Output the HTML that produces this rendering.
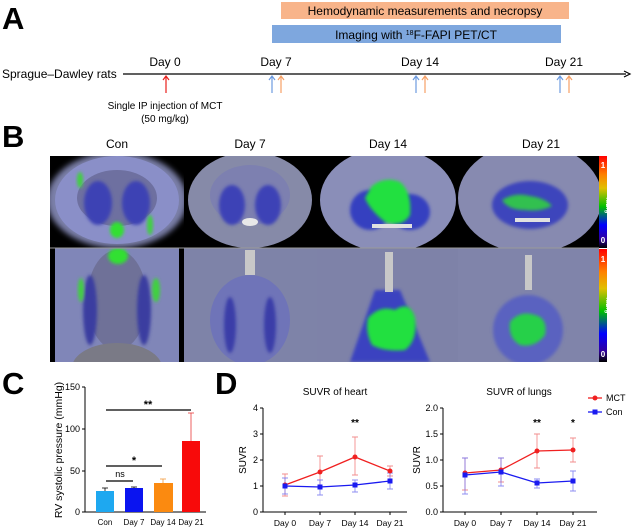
<!DOCTYPE html>
<html><head><meta charset="utf-8"><style>
html,body{margin:0;padding:0;background:#fff}
svg{display:block;font-family:"Liberation Sans",Arial,sans-serif}
</style></head><body>
<svg width="633" height="529" viewBox="0 0 633 529" xmlns="http://www.w3.org/2000/svg">
<defs>
<filter id="bl" x="-30%" y="-30%" width="160%" height="160%"><feGaussianBlur stdDeviation="3"/></filter>
<filter id="bl2" x="-30%" y="-30%" width="160%" height="160%"><feGaussianBlur stdDeviation="1.5"/></filter>
<linearGradient id="cb" x1="0" y1="0" x2="0" y2="1">
<stop offset="0" stop-color="#ff0000"/><stop offset="0.2" stop-color="#ff8000"/><stop offset="0.35" stop-color="#e0c000"/><stop offset="0.55" stop-color="#00c000"/><stop offset="0.75" stop-color="#0000ff"/><stop offset="0.9" stop-color="#3000a0"/><stop offset="1" stop-color="#000"/></linearGradient>
<clipPath id="c1"><rect x="50" y="156" width="134" height="92"/></clipPath>
<clipPath id="c2"><rect x="184" y="156" width="133" height="92"/></clipPath>
<clipPath id="c3"><rect x="317" y="156" width="141" height="92"/></clipPath>
<clipPath id="c4"><rect x="458" y="156" width="141" height="92"/></clipPath>
<clipPath id="d1"><rect x="50" y="248" width="134" height="114"/></clipPath>
<clipPath id="d2"><rect x="184" y="248" width="133" height="114"/></clipPath>
<clipPath id="d3"><rect x="317" y="248" width="141" height="114"/></clipPath>
<clipPath id="d4"><rect x="458" y="248" width="141" height="114"/></clipPath>
</defs>

<!-- Panel A -->
<text x="2" y="29" font-size="31" font-weight="bold">A</text>
<rect x="281" y="2" width="288" height="17" fill="#f8b48a"/>
<text x="425" y="15" font-size="12" text-anchor="middle">Hemodynamic measurements and necropsy</text>
<rect x="272" y="25" width="289" height="18" fill="#7ea7de"/>
<text x="416" y="39" font-size="12" text-anchor="middle">Imaging with <tspan font-size="7" dy="-4">18</tspan><tspan dy="4">F-FAPI PET/CT</tspan></text>
<text x="2" y="78" font-size="12">Sprague–Dawley rats</text>
<line x1="123" y1="74" x2="626" y2="74" stroke="#000" stroke-width="1.2"/>
<path d="M624,71 L630,74 L624,77" fill="none" stroke="#000" stroke-width="1.2"/>
<g font-size="12" text-anchor="middle">
<text x="165" y="66">Day 0</text><text x="276" y="66">Day 7</text><text x="420" y="66">Day 14</text><text x="564" y="66">Day 21</text>
</g>
<g stroke-width="1.2" fill="none">
<path d="M166,93 V77 M163,80 L166,76 L169,80" stroke="#e8201c"/>
<path d="M272,93 V77 M269,80 L272,76 L275,80" stroke="#6d9be0"/>
<path d="M281,93 V77 M278,80 L281,76 L284,80" stroke="#f6a066"/>
<path d="M416,93 V77 M413,80 L416,76 L419,80" stroke="#6d9be0"/>
<path d="M425,93 V77 M422,80 L425,76 L428,80" stroke="#f6a066"/>
<path d="M560,93 V77 M557,80 L560,76 L563,80" stroke="#6d9be0"/>
<path d="M569,93 V77 M566,80 L569,76 L572,80" stroke="#f6a066"/>
</g>
<text x="165" y="109" font-size="10" text-anchor="middle">Single IP injection of MCT</text>
<text x="165" y="122" font-size="10" text-anchor="middle">(50 mg/kg)</text>

<!-- Panel B -->
<text x="2" y="147" font-size="31" font-weight="bold">B</text>
<g font-size="12" text-anchor="middle">
<text x="117" y="148">Con</text><text x="250" y="148">Day 7</text><text x="388" y="148">Day 14</text><text x="541" y="148">Day 21</text>
</g>
<rect x="50" y="156" width="549" height="206" fill="#000"/>

<!-- row1 axial -->
<g clip-path="url(#c1)">
<ellipse cx="117" cy="200" rx="70" ry="48" fill="#7a7fa8" filter="url(#bl)"/>
<ellipse cx="117" cy="200" rx="62" ry="44" fill="#8a8fc8"/>
<ellipse cx="117" cy="198" rx="40" ry="28" fill="#6e70a0"/>
<ellipse cx="98" cy="203" rx="14" ry="22" fill="#3e43b4" filter="url(#bl2)"/>
<ellipse cx="136" cy="203" rx="14" ry="22" fill="#3e43b4" filter="url(#bl2)"/>
<ellipse cx="117" cy="230" rx="7" ry="8" fill="#30e030" filter="url(#bl2)"/>
<ellipse cx="80" cy="180" rx="3" ry="8" fill="#40d040" filter="url(#bl2)"/>
<ellipse cx="150" cy="225" rx="3" ry="10" fill="#40d040" filter="url(#bl2)"/>
</g>
<g clip-path="url(#c2)">
<ellipse cx="250" cy="200" rx="62" ry="48" fill="#868aa8"/>
<ellipse cx="250" cy="195" rx="40" ry="30" fill="#7d80b0"/>
<ellipse cx="232" cy="205" rx="13" ry="20" fill="#3c42b6" filter="url(#bl2)"/>
<ellipse cx="268" cy="205" rx="13" ry="20" fill="#3c42b6" filter="url(#bl2)"/>
<ellipse cx="250" cy="222" rx="8" ry="4" fill="#e8e8e8"/>
</g>
<g clip-path="url(#c3)">
<ellipse cx="388" cy="200" rx="68" ry="52" fill="#8a8eb8"/>
<ellipse cx="370" cy="210" rx="20" ry="20" fill="#3640c0" filter="url(#bl2)"/>
<ellipse cx="410" cy="212" rx="20" ry="18" fill="#3640c0" filter="url(#bl2)"/>
<path d="M372,186 Q385,176 400,182 Q412,192 410,215 Q402,228 385,222 Q370,210 365,198 Z" fill="#20e040" filter="url(#bl2)"/>
<rect x="372" y="224" width="40" height="4" fill="#e0e0e0"/>
</g>
<g clip-path="url(#c4)">
<ellipse cx="530" cy="198" rx="72" ry="55" fill="#878ab0"/>
<ellipse cx="530" cy="205" rx="38" ry="24" fill="#3c44bc" filter="url(#bl2)"/>
<path d="M502,200 Q515,192 530,196 Q545,198 552,206 Q540,212 525,210 Q508,210 502,200 Z" fill="#30c050" filter="url(#bl2)"/>
<rect x="515" y="218" width="35" height="4" fill="#e0e0e0"/>
</g>

<!-- row2 coronal -->
<g clip-path="url(#d1)">
<rect x="55" y="248" width="124" height="114" fill="#8086b8"/>
<ellipse cx="117" cy="300" rx="30" ry="50" fill="#6f7198"/>
<ellipse cx="117" cy="368" rx="45" ry="25" fill="#7a7a86"/>
<ellipse cx="90" cy="310" rx="7" ry="35" fill="#3a3ea0" filter="url(#bl2)"/>
<ellipse cx="144" cy="310" rx="7" ry="35" fill="#3a3ea0" filter="url(#bl2)"/>
<ellipse cx="118" cy="256" rx="10" ry="8" fill="#30e030" filter="url(#bl2)"/>
<ellipse cx="81" cy="290" rx="3" ry="12" fill="#40d040" filter="url(#bl2)"/>
<ellipse cx="156" cy="290" rx="4" ry="12" fill="#40d040" filter="url(#bl2)"/>
</g>
<g clip-path="url(#d2)">
<rect x="184" y="248" width="133" height="114" fill="#7e83a8"/>
<ellipse cx="250" cy="320" rx="40" ry="45" fill="#6f74b8"/>
<ellipse cx="230" cy="325" rx="6" ry="28" fill="#3a3ea8" filter="url(#bl2)"/>
<ellipse cx="270" cy="325" rx="6" ry="28" fill="#3a3ea8" filter="url(#bl2)"/>
<rect x="245" y="250" width="10" height="25" fill="#c8c8c8"/>
</g>
<g clip-path="url(#d3)">
<rect x="317" y="248" width="141" height="114" fill="#7e82a8"/>
<path d="M350,362 L375,290 L400,290 L430,362 Z" fill="#3a42c0" filter="url(#bl2)"/>
<path d="M368,318 Q380,305 395,310 Q410,300 415,318 Q418,340 405,350 Q385,352 372,345 Q365,332 368,318 Z" fill="#20e040" filter="url(#bl2)"/>
<rect x="385" y="252" width="8" height="40" fill="#c8c8c8"/>
</g>
<g clip-path="url(#d4)">
<rect x="458" y="248" width="141" height="114" fill="#8084aa"/>
<ellipse cx="528" cy="330" rx="35" ry="35" fill="#5a62c0" filter="url(#bl2)"/>
<path d="M510,322 Q520,310 535,315 Q548,318 545,335 Q535,348 520,345 Q508,338 510,322 Z" fill="#28d048" filter="url(#bl2)"/>
<rect x="525" y="255" width="7" height="35" fill="#c8c8c8"/>
</g>
<line x1="50" y1="248" x2="599" y2="248" stroke="#9a9a9a" stroke-width="1"/>
<rect x="599" y="156" width="8" height="92" fill="url(#cb)"/>
<rect x="599" y="249" width="8" height="113" fill="url(#cb)"/>
<g fill="#fff" font-size="8" font-weight="bold" text-anchor="middle">
<text x="603" y="168">1</text><text x="603" y="243">0</text>
<text x="603" y="262">1</text><text x="603" y="357">0</text>
<text transform="translate(606,205) rotate(90)" font-size="6">%ID/g</text>
<text transform="translate(606,305) rotate(90)" font-size="6">%ID/g</text>
</g>

<!-- Panel C -->
<text x="2" y="394" font-size="31" font-weight="bold">C</text>
<g stroke="#000" stroke-width="1">
<line x1="85" y1="387" x2="85" y2="512"/>
<line x1="85" y1="512" x2="206" y2="512"/>
<line x1="82" y1="387" x2="85" y2="387"/><line x1="82" y1="429" x2="85" y2="429"/>
<line x1="82" y1="471" x2="85" y2="471"/><line x1="82" y1="512" x2="85" y2="512"/>
</g>
<g font-size="9" text-anchor="end"><text x="80" y="390">150</text><text x="80" y="432">100</text><text x="80" y="474">50</text><text x="80" y="515">0</text></g>
<text transform="translate(62,450) rotate(-90)" font-size="10.5" text-anchor="middle">RV systolic pressure (mmHg)</text>
<g stroke="#000" stroke-width="0.8">
<line x1="105" y1="488" x2="105" y2="491"/><line x1="102" y1="488" x2="108" y2="488"/>
<line x1="134" y1="487" x2="134" y2="488"/><line x1="131" y1="487" x2="137" y2="487"/>
</g>
<g stroke-width="0.8" stroke="#f39a3a"><line x1="163" y1="479" x2="163" y2="483"/><line x1="160" y1="479" x2="166" y2="479"/></g>
<g stroke-width="0.8" stroke="#e83a3a"><line x1="191" y1="413" x2="191" y2="441"/><line x1="188" y1="413" x2="194" y2="413"/></g>
<rect x="96" y="491" width="18" height="21" fill="#1ea8f0"/>
<rect x="125" y="488" width="18" height="24" fill="#0a14f0"/>
<rect x="154" y="483" width="19" height="29" fill="#fb8a10"/>
<rect x="182" y="441" width="18" height="71" fill="#f80a0a"/>
<g font-size="8" text-anchor="middle"><text x="105" y="525">Con</text><text x="134" y="525">Day 7</text><text x="163" y="525">Day 14</text><text x="191" y="525">Day 21</text></g>
<g stroke="#000" stroke-width="1.2">
<line x1="106" y1="410" x2="191" y2="410"/><line x1="106" y1="466" x2="162" y2="466"/><line x1="106" y1="481" x2="133" y2="481"/>
</g>
<text x="148" y="408" font-size="11" font-weight="bold" text-anchor="middle">**</text>
<text x="134" y="464" font-size="11" font-weight="bold" text-anchor="middle">*</text>
<text x="120" y="477" font-size="9" text-anchor="middle">ns</text>

<!-- Panel D -->
<text x="215" y="394" font-size="31" font-weight="bold">D</text>
<!-- heart -->
<text x="335" y="395" font-size="10" text-anchor="middle">SUVR of heart</text>
<g stroke="#000" stroke-width="1">
<line x1="263" y1="408" x2="263" y2="512"/><line x1="263" y1="512" x2="407" y2="512"/>
<line x1="260" y1="408" x2="263" y2="408"/><line x1="260" y1="434" x2="263" y2="434"/><line x1="260" y1="460" x2="263" y2="460"/><line x1="260" y1="486" x2="263" y2="486"/><line x1="260" y1="512" x2="263" y2="512"/>
<line x1="285" y1="512" x2="285" y2="515"/><line x1="320" y1="512" x2="320" y2="515"/><line x1="355" y1="512" x2="355" y2="515"/><line x1="390" y1="512" x2="390" y2="515"/>
</g>
<g font-size="9" text-anchor="end"><text x="258" y="411">4</text><text x="258" y="437">3</text><text x="258" y="463">2</text><text x="258" y="489">1</text><text x="258" y="515">0</text></g>
<text transform="translate(246,460) rotate(-90)" font-size="10" text-anchor="middle">SUVR</text>
<g font-size="8.5" text-anchor="middle"><text x="285" y="526">Day 0</text><text x="320" y="526">Day 7</text><text x="355" y="526">Day 14</text><text x="390" y="526">Day 21</text></g>
<g stroke="#f07070" stroke-width="0.9" opacity="0.8">
<path d="M285,474 V496 M282,474 H288 M282,496 H288"/>
<path d="M320,456 V487 M317,456 H323 M317,487 H323"/>
<path d="M355,437 V475 M352,437 H358 M352,475 H358"/>
<path d="M390,466 V476 M387,466 H393 M387,476 H393"/>
</g>
<g stroke="#7070f0" stroke-width="0.9" opacity="0.8">
<path d="M285,478 V494 M282,478 H288 M282,494 H288"/>
<path d="M320,480 V495 M317,480 H323 M317,495 H323"/>
<path d="M355,480 V492 M352,480 H358 M352,492 H358"/>
<path d="M390,473 V489 M387,473 H393 M387,489 H393"/>
</g>
<polyline points="285,485 320,472 355,457 390,471" fill="none" stroke="#f02020" stroke-width="1.3"/>
<polyline points="285,486 320,487 355,485 390,481" fill="none" stroke="#1a1af0" stroke-width="1.3"/>
<g fill="#f02020"><circle cx="285" cy="485" r="2.5"/><circle cx="320" cy="472" r="2.5"/><circle cx="355" cy="457" r="2.5"/><circle cx="390" cy="471" r="2.5"/></g>
<g fill="#1a1af0"><rect x="282.5" y="483.5" width="5" height="5"/><rect x="317.5" y="484.5" width="5" height="5"/><rect x="352.5" y="482.5" width="5" height="5"/><rect x="387.5" y="478.5" width="5" height="5"/></g>
<text x="355" y="426" font-size="10" font-weight="bold" text-anchor="middle">**</text>

<!-- lungs -->
<text x="519" y="395" font-size="10" text-anchor="middle">SUVR of lungs</text>
<g stroke="#000" stroke-width="1">
<line x1="443" y1="408" x2="443" y2="512"/><line x1="443" y1="512" x2="597" y2="512"/>
<line x1="440" y1="408" x2="443" y2="408"/><line x1="440" y1="434" x2="443" y2="434"/><line x1="440" y1="460" x2="443" y2="460"/><line x1="440" y1="486" x2="443" y2="486"/><line x1="440" y1="512" x2="443" y2="512"/>
<line x1="465" y1="512" x2="465" y2="515"/><line x1="501" y1="512" x2="501" y2="515"/><line x1="537" y1="512" x2="537" y2="515"/><line x1="573" y1="512" x2="573" y2="515"/>
</g>
<g font-size="9" text-anchor="end"><text x="438" y="411">2.0</text><text x="438" y="437">1.5</text><text x="438" y="463">1.0</text><text x="438" y="489">0.5</text><text x="438" y="515">0.0</text></g>
<text transform="translate(420,460) rotate(-90)" font-size="10" text-anchor="middle">SUVR</text>
<g font-size="8.5" text-anchor="middle"><text x="465" y="526">Day 0</text><text x="501" y="526">Day 7</text><text x="537" y="526">Day 14</text><text x="573" y="526">Day 21</text></g>
<g stroke="#f07070" stroke-width="0.9" opacity="0.8">
<path d="M465,458 V490 M462,458 H468 M462,490 H468"/>
<path d="M501,458 V482 M498,458 H504 M498,482 H504"/>
<path d="M537,434 V468 M534,434 H540 M534,468 H540"/>
<path d="M573,438 V462 M570,438 H576 M570,462 H576"/>
</g>
<g stroke="#7070f0" stroke-width="0.9" opacity="0.8">
<path d="M465,458 V494 M462,458 H468 M462,494 H468"/>
<path d="M501,458 V486 M498,458 H504 M498,486 H504"/>
<path d="M537,479 V488 M534,479 H540 M534,488 H540"/>
<path d="M573,471 V491 M570,471 H576 M570,491 H576"/>
</g>
<polyline points="465,473 501,470 537,451 573,450" fill="none" stroke="#f02020" stroke-width="1.3"/>
<polyline points="465,475 501,472 537,483 573,481" fill="none" stroke="#1a1af0" stroke-width="1.3"/>
<g fill="#f02020"><circle cx="465" cy="473" r="2.5"/><circle cx="501" cy="470" r="2.5"/><circle cx="537" cy="451" r="2.5"/><circle cx="573" cy="450" r="2.5"/></g>
<g fill="#1a1af0"><rect x="462.5" y="472.5" width="5" height="5"/><rect x="498.5" y="469.5" width="5" height="5"/><rect x="534.5" y="480.5" width="5" height="5"/><rect x="570.5" y="478.5" width="5" height="5"/></g>
<text x="537" y="426" font-size="10" font-weight="bold" text-anchor="middle">**</text>
<text x="573" y="426" font-size="10" font-weight="bold" text-anchor="middle">*</text>

<!-- legend -->
<line x1="588" y1="398" x2="602" y2="398" stroke="#f02020" stroke-width="1.3"/><circle cx="595" cy="398" r="2.5" fill="#f02020"/>
<text x="606" y="401" font-size="9">MCT</text>
<line x1="588" y1="412" x2="602" y2="412" stroke="#1a1af0" stroke-width="1.3"/><rect x="592.5" y="409.5" width="5" height="5" fill="#1a1af0"/>
<text x="606" y="415" font-size="9">Con</text>
</svg>
</body></html>
